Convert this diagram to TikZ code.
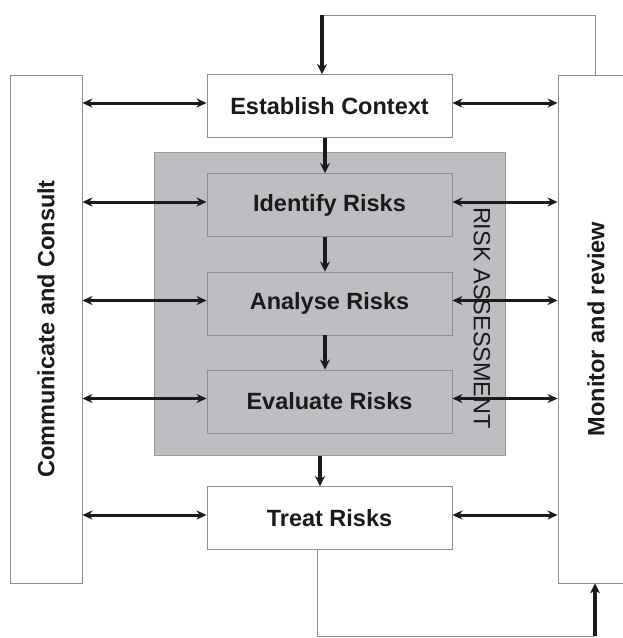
\documentclass[tikz,border=0pt]{standalone}
\usepackage{fontspec}
\setmainfont{Liberation Sans}
\usetikzlibrary{arrows.meta}
\definecolor{gbox}{HTML}{BEBEC2}
\definecolor{gedge}{HTML}{9A9A9E}
\definecolor{bedge}{HTML}{8E8E8E}
\definecolor{ink}{HTML}{1A1A1A}
\tikzset{
  x=1pt, y=-1pt,
  stepbox/.style={draw=bedge, line width=0.9pt, minimum width=245pt, minimum height=63pt, font=\fontsize{23.5}{26}\selectfont\bfseries, text=ink, inner sep=0pt},
  sidebox/.style={draw=bedge, line width=0.9pt, fill=white, rotate=90, font=\fontsize{23.5}{26}\selectfont\bfseries, text=ink, inner sep=0pt},
  dbl/.style={{Stealth[length=10pt,width=9pt]}-{Stealth[length=10pt,width=9pt]}, line width=3pt, draw=ink},
  arr/.style={-{Stealth[length=10pt,width=10pt]}, line width=3.4pt, draw=ink},
  fb/.style={draw=bedge, line width=1pt}
}
\begin{document}
\begin{tikzpicture}
\useasboundingbox[fill=white] (0,0) rectangle (622,638);
% side boxes (rotated: .south is the right side of L, .north the left side of R)
\node[sidebox, minimum width=508pt, minimum height=72pt] (L) at (46,329) {Communicate and Consult};
\node[sidebox, minimum width=508pt, minimum height=82pt] (R) at (599,329) {};
\node[rotate=90, font=\fontsize{23.5}{26}\selectfont\bfseries, text=ink] (Rt) at (596,329) {Monitor and review};
% grey container
\node[draw=gedge, fill=gbox, line width=0.9pt, minimum width=351pt, minimum height=303pt, inner sep=0pt] (G) at (329.5,304) {};
\node[rotate=-90, font=\fontsize{23.5}{26}\selectfont, text=ink] (RA) at (482,318) {RISK ASSESSMENT};
% steps
\node[stepbox, fill=white] (EC) at (329.5,106) {Establish Context};
\node[stepbox] (ID) at (329.5,205) {Identify Risks};
\node[stepbox] (AN) at (329.5,303.5) {Analyse Risks};
\node[stepbox] (EV) at (329.5,401.5) {Evaluate Risks};
\node[stepbox, fill=white] (TR) at (329.5,518) {Treat Risks};
% vertical flow
\coordinate (ax) at (325,0);
\coordinate (bx) at (320,0);
\draw[arr] (EC.south -| ax) -- (ID.north -| ax);
\draw[arr] (ID.south -| ax) -- (AN.north -| ax);
\draw[arr] (AN.south -| ax) -- (EV.north -| ax);
\draw[arr] (G.south -| bx) -- (TR.north -| bx);
% side arrows
\foreach \n in {EC,ID,AN,EV,TR}{
  \coordinate (\n-l) at ([yshift=3pt]\n.west);
  \coordinate (\n-r) at ([yshift=3pt]\n.east);
  \draw[dbl] (L.south |- \n-l) -- (\n-l);
  \draw[dbl] (\n-r) -- (R.north |- \n-r);
}
% feedback loop top
\coordinate (t1) at (322,15);
\coordinate (t2) at (595,15);
\draw[fb] (R.east -| t2) -- (t2) -- (t1);
\draw[arr] (t1) -- (EC.north -| t1);
% feedback loop bottom
\coordinate (b1) at (317,636);
\coordinate (b2) at (595,636);
\draw[fb] (TR.south -| b1) -- (b1) -- (b2);
\draw[arr] (b2) -- (R.west -| b2);
\end{tikzpicture}
\end{document}
